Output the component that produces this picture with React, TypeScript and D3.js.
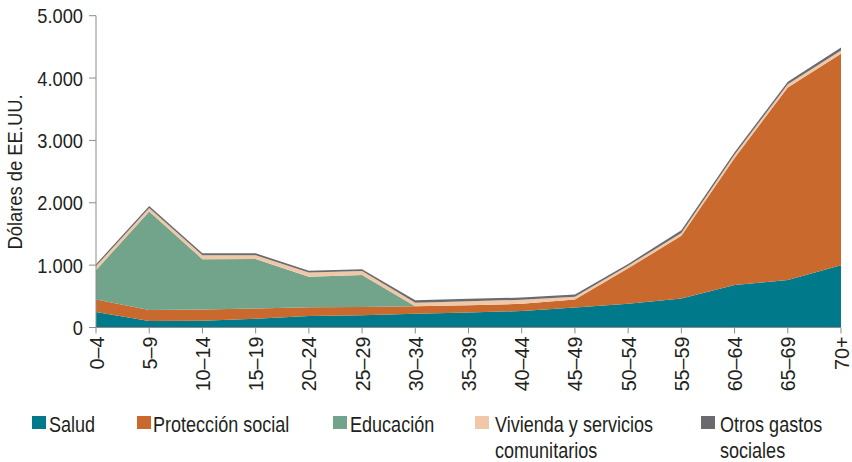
import React from "react";
import * as d3 from "d3";

const categories = ["0–4", "5–9", "10–14", "15–19", "20–24", "25–29", "30–34", "35–39", "40–44", "45–49", "50–54", "55–59", "60–64", "65–69", "70+"];
const salud = [250, 105, 110, 140, 185, 195, 220, 240, 265, 320, 380, 465, 680, 760, 1000];
const proteccion = [200, 175, 180, 165, 140, 135, 120, 115, 115, 130, 570, 1005, 2040, 3090, 3390];
const educacion = [470, 1580, 805, 795, 490, 510, 0, 0, 0, 0, 0, 0, 0, 0, 0];
const vivienda = [65, 55, 65, 60, 65, 65, 55, 65, 65, 45, 40, 45, 50, 50, 50];
const otros = [30, 35, 30, 30, 30, 30, 40, 40, 35, 35, 30, 45, 40, 40, 50];
const yTicks = [0, 1000, 2000, 3000, 4000, 5000];

const seriesNames = ["Salud", "Protección social", "Educación", "Vivienda y servicios comunitarios", "Otros gastos sociales"];
const seriesKeys = ["salud", "proteccion", "educacion", "vivienda", "otros"];
const colors = ["#007a8a", "#c9692d", "#72a48b", "#f0c8a8", "#6a6b6f"];
const legendLines = [["Salud"], ["Protección social"], ["Educación"], ["Vivienda y servicios", "comunitarios"], ["Otros gastos", "sociales"]];

const FONT = "'Liberation Sans', Arial, sans-serif";

function T(props: {
  x: number;
  y: number;
  rotate?: number;
  sx: number;
  size: number;
  anchor?: string;
  dy?: string;
  fill: string;
  children: React.ReactNode;
}) {
  const { x, y, rotate = 0, sx, size, anchor = "start", dy, fill, children } = props;
  return (
    <g transform={`translate(${x},${y}) rotate(${rotate}) scale(${sx},1)`}>
      <text x={0} y={0} dy={dy} textAnchor={anchor as any} fontSize={size} fill={fill}>
        {children}
      </text>
    </g>
  );
}

export default function App() {
  const W = 852, H = 462;
  const rows = categories.map((c, i) => ({
    cat: c,
    salud: salud[i],
    proteccion: proteccion[i],
    educacion: educacion[i],
    vivienda: vivienda[i],
    otros: otros[i],
  }));
  const stack = d3.stack<any>().keys(seriesKeys);
  const layers = stack(rows);

  const x = d3.scalePoint<string>().domain(categories).range([96, 841]);
  const y = d3.scaleLinear().domain([0, 5000]).range([327.5, 15.7]);
  const area = d3
    .area<any>()
    .x((d) => x(d.data.cat) as number)
    .y0((d) => y(d[0]))
    .y1((d) => y(d[1]));
  const fmt = (v: number) => d3.format(",")(v).replace(/,/g, ".");
  const textColor = "#231f20";
  const axisColor = "#8c8c8c";
  const legendX = [32, 137, 333, 475, 701];
  const legendTextX = [49, 153, 350, 495, 720];

  return (
    <div style={{ position: "absolute", left: 0, top: 0 }}>
      <svg width={W} height={H} style={{ display: "block", background: "#fff" }} fontFamily={FONT}>
        {layers.map((layer, i) => (
          <path key={i} d={area(layer as any) || ""} fill={colors[i]} />
        ))}
        {/* y axis */}
        <line x1={96} x2={96} y1={y(5000)} y2={y(0)} stroke={axisColor} strokeWidth={1} />
        {yTicks.map((t) => (
          <g key={t}>
            <line x1={89} x2={96} y1={y(t)} y2={y(t)} stroke={axisColor} />
            <T x={83} y={y(t)} dy="0.36em" anchor="end" sx={0.87} size={21} fill={textColor}>
              {fmt(t)}
            </T>
          </g>
        ))}
        {/* x axis */}
        <line x1={96} x2={841} y1={y(0)} y2={y(0)} stroke={axisColor} />
        {categories.map((c) => (
          <g key={c}>
            <line x1={x(c)} x2={x(c)} y1={y(0)} y2={y(0) + 6} stroke={axisColor} />
            <T
              x={x(c) as number}
              y={y(0) + 9}
              rotate={-90}
              anchor="end"
              dy="0.36em"
              sx={0.94}
              size={21}
              fill={textColor}
            >
              {c}
            </T>
          </g>
        ))}
        <T x={22} y={172} rotate={-90} anchor="middle" sx={0.875} size={21} fill={textColor}>
          Dólares de EE.UU.
        </T>
        {/* legend */}
        {seriesNames.map((n, i) => (
          <g key={n}>
            <rect x={legendX[i]} y={416} width={14} height={13} fill={colors[i]} />
            {legendLines[i].map((ln, j) => (
              <T key={j} x={legendTextX[i]} y={432 + j * 26} sx={0.82} size={22} fill={textColor}>
                {ln}
              </T>
            ))}
          </g>
        ))}
      </svg>
    </div>
  );
}
